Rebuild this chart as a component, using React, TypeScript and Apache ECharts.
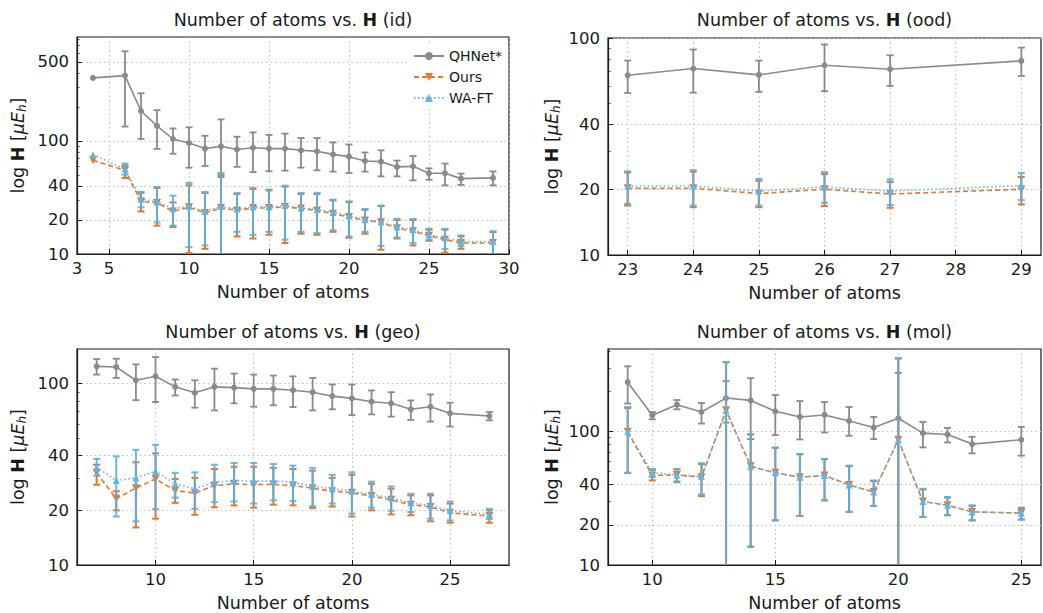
import React, { useEffect, useRef } from "react";
import * as echarts from "echarts";

// ---------- data (values in µEh) ----------
const idX = [4, 6, 7, 8, 9, 10, 11, 12, 13, 14, 15, 16, 17, 18, 19, 20, 21, 22, 23, 24, 25, 26, 27, 29];
const idQhMean = [361, 378, 184, 136, 104, 96, 85.5, 89.6, 84, 87, 85.5, 85.5, 82.6, 80.9, 76, 72.6, 66.5, 65.6, 58.9, 59.6, 51.7, 51.7, 46.4, 47.1];
const idQhHi = [null, 621, 264, 187, 129, 132, 111, 155, 109, 119, 113, 116, 106, 106, 97, 93, 79, 82.6, 67, 73.6, 57.2, 63, 51.4, 53.8];
const idQhLo = [null, 134, 104, 85, 77, 58, 60, 48, 59, 53, 54, 54.6, 58, 55, 53.5, 52, 53.5, 48.6, 48.6, 44.8, 45.4, 40.5, 40.8, 40.5];
const idOursMean = [67.3, 54.9, 29.2, 28.3, 23.8, 25.9, 23.1, 25.5, 24.3, 25.5, 25.5, 26.1, 25.2, 24.3, 22.7, 21.2, 19.8, 19.1, 16.9, 15.9, 14.5, 13.4, 12.5, 12.5];
const idOursHi = [null, 60.4, 34.7, 38.4, 28.6, 40.5, 34.7, 50, 34, 37.5, 36.5, 39.5, 34, 34, 29.8, 28.8, 24.6, 26.5, 20, 20, 16.4, 16.4, 14.3, 15.6];
const idOursLo = [null, 47, 23.8, 17.8, 17.3, 10.2, 11.1, 5, 14.3, 13.7, 14.8, 12.5, 15.1, 14.8, 15.7, 13.9, 15.1, 10.9, 13.7, 11.9, 13.1, 10.3, 11.1, 5];
const idWaMean = [75.6, 56.5, 30.7, 28.9, 25.2, 26.4, 23.8, 26.4, 25, 26.1, 26.1, 26.8, 25.5, 24.7, 23.3, 21.8, 20.1, 19.2, 17.3, 16.4, 14.8, 13.9, 12.9, 12.9];
const idWaHi = [null, 63, 35.4, 39.2, 32.8, 42.5, 35.4, 52, 34.7, 38.4, 37.1, 40.2, 34.7, 34.7, 30.2, 29.2, 25, 26.8, 20.5, 20.4, 16.7, 16.7, 14.6, 15.9];
const idWaLo = [null, 50.3, 25.9, 19, 17.8, 11.5, 11.9, 5, 15.7, 14.8, 15.7, 13.4, 15.7, 15.3, 16.2, 14.3, 15.7, 11.8, 14, 12.5, 13.4, 11.1, 11.7, 5];

const oodX = [23, 24, 25, 26, 27, 29];
const oodQhMean = [67.3, 72.3, 67.6, 74.9, 71.8, 78.4];
const oodQhHi = [78.7, 88.5, 78.7, 93.3, 83.2, 90.3];
const oodQhLo = [55.8, 56, 56.5, 56.9, 60.1, 66.8];
const oodOursMean = [20.3, 20.3, 19.2, 20.1, 19.1, 20.1];
const oodOursHi = [24, 24.2, 22, 23.6, 21.7, 22.9];
const oodOursLo = [16.9, 16.6, 16.6, 16.8, 16.5, 17.1];
const oodWaMean = [20.8, 20.8, 19.7, 20.6, 19.7, 20.9];
const oodWaHi = [24.3, 24.6, 22.4, 24.1, 22.3, 23.9];
const oodWaLo = [17.2, 16.9, 16.9, 17.4, 17, 17.9];

const geoX = [7, 8, 9, 10, 11, 12, 13, 14, 15, 16, 17, 18, 19, 20, 21, 22, 23, 24, 25, 27];
const geoQhMean = [124.4, 123.4, 104.2, 109.6, 95.9, 88.9, 95.9, 95, 93.5, 93.5, 91.9, 89.6, 85.2, 82.8, 79.4, 77.8, 72.1, 74.5, 68.5, 66.2];
const geoQhHi = [136.5, 137, 127.6, 140, 105.2, 104.2, 120.8, 113.5, 112, 110.6, 109.6, 107.4, 98.8, 98.8, 91.6, 89.6, 80.7, 87.1, 78.4, 69.7];
const geoQhLo = [112, 107.4, 81, 79, 85.9, 73.6, 71.1, 77.8, 74.5, 75.9, 74.2, 71.1, 72.1, 67, 67.6, 65.7, 63, 61.7, 57.9, 62.7];
const geoOursMean = [32.2, 23.2, 26.5, 29.8, 25.7, 24.9, 27.4, 28, 27.7, 27.8, 27.4, 26.5, 25.5, 25, 24, 22.9, 21.5, 20.9, 19.4, 18.6];
const geoOursHi = [35.7, 25.5, 36.8, 41.2, 29.8, 30.2, 33.8, 34.8, 34.8, 34.3, 33.8, 33.1, 30.2, 31.4, 28, 26.3, 24.2, 24.2, 21.8, 20];
const geoOursLo = [27.7, 20, 16.1, 18, 22, 18.9, 20.8, 21.3, 20.7, 21.5, 21.3, 20.6, 21, 18.5, 20, 19, 18.8, 17.4, 17.1, 17.1];
const geoWaMean = [34.6, 29.2, 30.2, 32.9, 28, 26.3, 28.6, 29.2, 29, 29, 28.6, 27.2, 26.3, 25.5, 24.5, 23.4, 22, 21.3, 20, 19];
const geoWaHi = [38.4, 39.7, 43.1, 45.9, 32.2, 32.4, 35.7, 36.5, 36.5, 36, 35.3, 34.3, 31.4, 32.4, 28.8, 27.1, 24.7, 24.7, 22.4, 20.4];
const geoWaLo = [31.1, 18.5, 17.4, 20.3, 23.5, 20.4, 22.2, 22.4, 21.8, 22.7, 22.5, 21.1, 21.8, 19.2, 20.7, 19.9, 19.6, 18, 17.6, 17.9];

const molX = [9, 10, 11, 12, 13, 14, 15, 16, 17, 18, 19, 20, 21, 22, 23, 25];
const molQhMean = [234, 132.3, 158.8, 140, 178, 171, 141.7, 128.5, 133, 120, 107.1, 125.7, 97.2, 95, 80.5, 86.7];
const molQhHi = [308, 140, 172, 163.4, 238, 251, 187.5, 169, 166.3, 152.6, 128.5, 275, 118, 106.4, 91.3, 108.3];
const molQhLo = [162, 123.5, 146.6, 114.7, 116.7, 87.7, 94, 87.2, 98.4, 92.9, 87.7, 5, 76, 82.8, 68.6, 65.9];
const molOursMean = [99.5, 46.8, 47.3, 45.5, 144, 54.9, 49, 45.5, 46.8, 39.8, 35.2, 86.7, 29.9, 28, 25, 24.5];
const molOursHi = [150, 51.5, 52, 57, 330, 95, 75.5, 67.5, 62, 55, 42.5, 352, 36.8, 32, 27.7, 26.6];
const molOursLo = [49, 43, 41.7, 32.8, 5, 13.7, 21.6, 23.3, 30.5, 25, 27.7, 5, 22.9, 23.6, 21.6, 21.9];
const molWaMean = [99.5, 49, 47.3, 46, 144, 54.9, 49, 45.5, 46.8, 39.8, 35.2, 86.7, 29.9, 28, 25, 24.5];
const molWaHi = [152.6, 52.4, 52.4, 57.8, 332, 95.5, 76, 67.8, 62.2, 55.5, 43, 355.6, 37.2, 32.3, 28, 26.9];
const molWaLo = [49, 45.5, 42.3, 33.8, 5, 13.7, 21.6, 23.3, 30.5, 25, 27.7, 5, 22.9, 23.6, 21.6, 21.9];

// tick labels
const idXTicks = [3, 5, 10, 15, 20, 25, 30];
const oodXTicks = [23, 24, 25, 26, 27, 28, 29];
const geoXTicks = [10, 15, 20, 25];
const molXTicks = [10, 15, 20, 25];
const idYTicks = [10, 20, 40, 100, 500];
const otherYTicks = [10, 20, 40, 100];
const minorYTicks = [30, 50, 60, 70, 80, 90, 200, 300, 400, 600, 700, 800];

const seriesNames = ["QHNet*", "Ours", "WA-FT"];

// ---------- style ----------
const FONT = "DejaVu Sans";
const TXT = "#1a1a1a";
const C_QH = "#8a8a8a";
const C_OURS = "#e5782c";
const C_WA = "#5cb6e8";

const lg = (v: number) => Math.log10(v);

type Trip = [number[], (number | null)[], (number | null)[]];
interface Panel {
  tag: string;
  grid: { left: number; top: number; width: number; height: number };
  xMin: number; xMax: number; xTicks: number[];
  yMax: number; yTicks: number[];
  x: number[];
  qh: Trip; ours: Trip; wa: Trip;
  nameGap: number;
}

const panels: Panel[] = [
  { tag: "id", grid: { left: 77, top: 37, width: 432, height: 217 }, xMin: 3, xMax: 30, xTicks: idXTicks, yMax: 830, yTicks: idYTicks, x: idX,
    qh: [idQhMean, idQhLo, idQhHi], ours: [idOursMean, idOursLo, idOursHi], wa: [idWaMean, idWaLo, idWaHi], nameGap: 49 },
  { tag: "ood", grid: { left: 608, top: 38, width: 433, height: 217 }, xMin: 22.7, xMax: 29.3, xTicks: oodXTicks, yMax: 100, yTicks: otherYTicks, x: oodX,
    qh: [oodQhMean, oodQhLo, oodQhHi], ours: [oodOursMean, oodOursLo, oodOursHi], wa: [oodWaMean, oodWaLo, oodWaHi], nameGap: 46 },
  { tag: "geo", grid: { left: 77, top: 349, width: 432, height: 218 }, xMin: 6, xMax: 28, xTicks: geoXTicks, yMax: 155, yTicks: otherYTicks, x: geoX,
    qh: [geoQhMean, geoQhLo, geoQhHi], ours: [geoOursMean, geoOursLo, geoOursHi], wa: [geoWaMean, geoWaLo, geoWaHi], nameGap: 49 },
  { tag: "mol", grid: { left: 608, top: 349, width: 433, height: 218 }, xMin: 8.2, xMax: 25.8, xTicks: molXTicks, yMax: 415, yTicks: otherYTicks, x: molX,
    qh: [molQhMean, molQhLo, molQhHi], ours: [molOursMean, molOursLo, molOursHi], wa: [molWaMean, molWaLo, molWaHi], nameGap: 46 },
];

function errRender(yMinL: number, yMaxL: number, color: string, lw: number, opacity: number) {
  return (_params: any, api: any) => {
    const xv = api.value(0);
    const lo = api.value(1);
    const hi = api.value(2);
    const loC = Math.max(lo, yMinL);
    const hiC = Math.min(hi, yMaxL);
    const top = api.coord([xv, hiC]);
    const bot = api.coord([xv, loC]);
    const cap = 3.5;
    const style = { stroke: color, lineWidth: lw, opacity };
    const children: any[] = [
      { type: "line", shape: { x1: top[0], y1: top[1], x2: bot[0], y2: bot[1] }, style },
    ];
    if (hi <= yMaxL) children.push({ type: "line", shape: { x1: top[0] - cap, y1: top[1], x2: top[0] + cap, y2: top[1] }, style });
    if (lo >= yMinL) children.push({ type: "line", shape: { x1: bot[0] - cap, y1: bot[1], x2: bot[0] + cap, y2: bot[1] }, style });
    return { type: "group", children };
  };
}

const yNameRich = {
  r: { fontSize: 17.5, fontFamily: FONT, color: TXT, lineHeight: 20 },
  b: { fontSize: 17.5, fontFamily: FONT, color: TXT, fontWeight: "bold", lineHeight: 20 },
  i: { fontSize: 17.5, fontFamily: FONT, color: TXT, fontStyle: "italic", lineHeight: 20 },
  s: { fontSize: 12, fontFamily: FONT, color: TXT, fontStyle: "italic", lineHeight: 10, verticalAlign: "bottom" },
};

function buildOption() {
  const grid: any[] = [];
  const xAxis: any[] = [];
  const yAxis: any[] = [];
  const series: any[] = [];
  const graphic: any[] = [];

  panels.forEach((p, i) => {
    const yMinL = 1;
    const yMaxL = lg(p.yMax);
    grid.push({ ...p.grid, show: true, borderColor: TXT, borderWidth: 1.2, backgroundColor: "transparent", containLabel: false });
    xAxis.push({
      type: "value", gridIndex: i, min: p.xMin, max: p.xMax,
      name: "Number of atoms", nameLocation: "middle", nameGap: 29,
      nameTextStyle: { fontSize: 17.5, fontFamily: FONT, color: TXT },
      axisLine: { show: true, lineStyle: { color: TXT, width: 1.2 } },
      axisTick: { show: true, inside: true, length: 5, customValues: p.xTicks, lineStyle: { color: TXT, width: 1 } },
      axisLabel: { customValues: p.xTicks, fontSize: 16.5, fontFamily: FONT, color: TXT, margin: 6 },
      splitLine: { show: true, lineStyle: { type: [1.5, 3], color: "#bdbdbd", width: 1.1 } },
    });
    const majors = p.yTicks.map(lg);
    yAxis.push({
      type: "value", gridIndex: i, min: yMinL, max: yMaxL, position: "left",
      name: "{r|log }{b|H}{r| [}{i|μE}{s|h}{r|]}", nameLocation: "middle", nameGap: p.nameGap, nameRotate: 90,
      nameTextStyle: { fontSize: 17.5, fontFamily: FONT, color: TXT, rich: yNameRich },
      axisLine: { show: true, lineStyle: { color: TXT, width: 1.2 } },
      axisTick: { show: true, inside: true, length: 5, customValues: majors, lineStyle: { color: TXT, width: 1 } },
      axisLabel: { customValues: majors, fontSize: 16.5, fontFamily: FONT, color: TXT, margin: 8,
        formatter: (v: number) => String(Math.round(Math.pow(10, v))) },
      splitLine: { show: true, lineStyle: { type: [1.5, 3], color: "#bdbdbd", width: 1.1 } },
    });
    yAxis.push({
      type: "value", gridIndex: i, min: yMinL, max: yMaxL, position: "left", offset: 0,
      axisLine: { show: false },
      axisTick: { show: true, inside: true, length: 2.5, customValues: minorYTicks.map(lg), lineStyle: { color: TXT, width: 0.8 } },
      axisLabel: { show: false },
      splitLine: { show: false },
    });

    const defs = [
      { name: seriesNames[0], d: p.qh, color: C_QH, errColor: C_QH, errW: 1.8, errOp: 1, symbol: "circle", size: 6, dash: "solid" as any, z: 2 },
      { name: seriesNames[1], d: p.ours, color: C_OURS, errColor: C_OURS, errW: 2, errOp: 1, symbol: "path://M0,0 L10,0 L5,8.66 Z", size: 8, dash: [5, 3], z: 4 },
      { name: seriesNames[2], d: p.wa, color: C_WA, errColor: "#56aee0", errW: 2, errOp: 0.88, symbol: "triangle", size: 7, dash: [1.5, 2.5], z: 6 },
    ];
    defs.forEach((s) => {
      const [mean, lo, hi] = s.d;
      const errData: number[][] = [];
      p.x.forEach((xv, j) => {
        const l = lo[j];
        const h = hi[j];
        if (l != null && h != null) errData.push([xv, lg(l), lg(h)]);
      });
      series.push({
        type: "custom", name: s.name + " err", xAxisIndex: i, yAxisIndex: 2 * i,
        data: errData, encode: { x: 0, y: [1, 2] }, silent: true, z: s.z,
        renderItem: errRender(yMinL, yMaxL, s.errColor, s.errW, s.errOp),
      });
      series.push({
        type: "line", name: s.name, xAxisIndex: i, yAxisIndex: 2 * i, z: s.z + 1,
        data: p.x.map((xv, j) => [xv, lg(mean[j])]),
        symbol: s.symbol, symbolSize: s.size, showSymbol: true, silent: true,
        itemStyle: { color: s.color, borderWidth: 0 },
        lineStyle: { color: s.color, width: 1.6, type: s.dash },
      });
    });

    graphic.push({
      type: "text",
      x: p.grid.left + p.grid.width / 2,
      y: i < 2 ? 19.5 : 331.5,
      silent: true,
      style: {
        text: `{n|Number of atoms vs. }{b|H}{n| (${p.tag})}`,
        rich: {
          n: { fontSize: 17.5, fontFamily: FONT, fill: TXT, color: TXT },
          b: { fontSize: 17.5, fontFamily: FONT, fontWeight: "bold", fill: TXT, color: TXT },
        },
        align: "center",
        verticalAlign: "middle",
        fill: TXT,
      },
    });
  });

  return {
    animation: false,
    backgroundColor: "#ffffff",
    textStyle: { fontFamily: FONT },
    grid, xAxis, yAxis, series, graphic,
    legend: {
      data: seriesNames,
      orient: "vertical",
      left: 409,
      top: 45,
      itemWidth: 30,
      itemHeight: 10,
      itemGap: 7,
      padding: [4, 6, 4, 4],
      backgroundColor: "#ffffff",
      selectedMode: false,
      textStyle: { fontSize: 14, fontFamily: FONT, color: TXT },
    },
  };
}

export default function App() {
  const ref = useRef<HTMLDivElement>(null);
  useEffect(() => {
    if (!ref.current) return;
    const chart = echarts.init(ref.current, null, { renderer: "svg" });
    chart.setOption(buildOption() as any);
    return () => chart.dispose();
  }, []);
  return <div ref={ref} style={{ position: "fixed", left: 0, top: 0, width: 1043, height: 613, background: "#fff" }} />;
}
